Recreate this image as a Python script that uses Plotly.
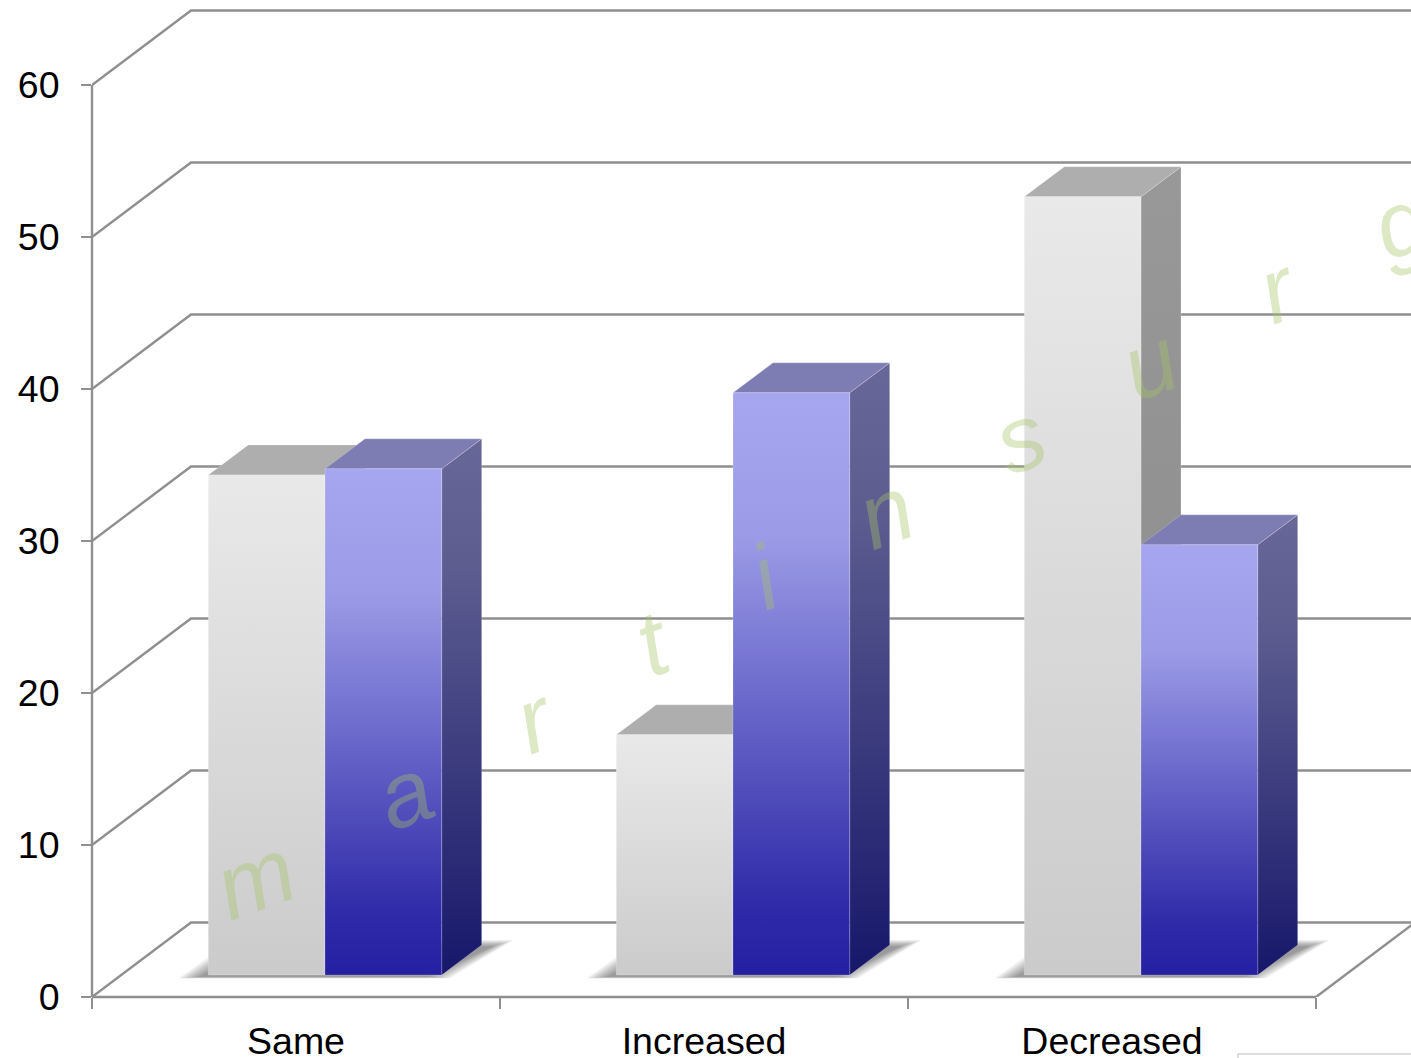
import plotly.graph_objects as go

# Chart data
categories = ["Same", "Increased", "Decreased"]
grey_values = [32.9, 15.8, 51.2]
blue_values = [33.3, 38.3, 28.3]
y_ticks = [0, 10, 20, 30, 40, 50, 60]
watermark_letters = ["m", "a", "r", "t", "i", "n", "s", "u", "r", "g"]
watermark_x = [0.40, 0.767, 1.086, 1.375, 1.65, 1.944, 2.275, 2.593, 2.907, 3.206]
watermark_y = [7.8, 13.4, 18.3, 23.3, 27.6, 31.9, 36.8, 41.7, 46.6, 50.9]

# Pixel scale of both axes, used to express the oblique projection in data units
PX_X = 408.0
PX_Y = 15.2
WIDTH, HEIGHT = 1411, 1058
LEFT, BOTTOM = 92, 61
X_MAX = (WIDTH - LEFT) / PX_X
Y_MAX = (HEIGHT - BOTTOM) / PX_Y


def dx(p):
    return p / PX_X


def dy(p):
    return p / PX_Y


WALL_DX, WALL_DY = dx(99), dy(74.5)    # depth of the chart box
SIDE_DX, SIDE_DY = dx(40), dy(30)      # depth of a bar
FRONT_DX, BASE_Y = dx(29), dy(22)      # where the bars stand on the floor
BAR_W = dx(116.7)
GRID = "#8f8f8f"
GRID_W = 2.4

fig = go.Figure()


def line(xs, ys):
    fig.add_trace(go.Scatter(x=xs, y=ys, mode="lines", hoverinfo="skip", showlegend=False,
                             line=dict(color=GRID, width=GRID_W)))


def face(xs, ys, colors=None, solid=None, edge="rgba(255,255,255,0.2)"):
    kw = dict(x=xs + xs[:1], y=ys + ys[:1], mode="lines", fill="toself", hoverinfo="skip",
              showlegend=False, line=dict(color=edge, width=1))
    if colors:
        kw["fillgradient"] = dict(type="vertical", colorscale=colors)
    else:
        kw["fillcolor"] = solid
    fig.add_trace(go.Scatter(**kw))


# Back wall grid lines running back from the value axis
for v in y_ticks:
    line([0, WALL_DX, X_MAX], [v, v + WALL_DY, v + WALL_DY])
# Right edge of the floor
line([3, 3 + WALL_DX], [0, WALL_DY])

GREY_FRONT = [[0, "#cbcbcb"], [1, "#e9e9e9"]]
GREY_SIDE = [[0, "#8a8a8a"], [1, "#989898"]]
BLUE_FRONT = [[0, "#2520a2"], [0.12, "#2f2aa8"], [0.75, "#9a9ae6"], [1, "#a6a6f0"]]
BLUE_SIDE = [[0, "#17176b"], [0.75, "#5c5c90"], [1, "#676798"]]

for i in range(len(categories)):
    centre = i + 0.5 + FRONT_DX
    x0, xm, x1 = centre - BAR_W, centre, centre + BAR_W

    # Soft contact shadow built from nested translucent layers
    for inset in range(0, 24, 2):
        a = dx(inset)
        low = BASE_Y - dy(3.5) + dy(inset * 0.08)
        high = BASE_Y + dy(35) - dy(inset * 0.3)
        sx = [x0 - dx(30) + a, x1 + dx(8) - a, x1 + dx(72) - a, x0 + dx(24) + a]
        sy = [low, low, high, high]
        face(sx, sy, solid="rgba(70,70,70,0.06)", edge="rgba(0,0,0,0)")

    for left, right, value, front, side, top in (
        (x0, xm, grey_values[i], GREY_FRONT, GREY_SIDE, "#aeaeae"),
        (xm, x1, blue_values[i], BLUE_FRONT, BLUE_SIDE, "#7d7db3"),
    ):
        y_top = BASE_Y + value
        face([right, right + SIDE_DX, right + SIDE_DX, right],
             [BASE_Y, BASE_Y + SIDE_DY, y_top + SIDE_DY, y_top], colors=side)
        face([left, right, right + SIDE_DX, left + SIDE_DX],
             [y_top, y_top, y_top + SIDE_DY, y_top + SIDE_DY], solid=top)
        face([left, right, right, left], [BASE_Y, BASE_Y, y_top, y_top], colors=front)

# Diagonal watermark, one letter at a time
annotations = [
    dict(x=x, y=y, text=ch, showarrow=False, textangle=-20, xanchor="center", yanchor="middle",
         font=dict(family="Liberation Sans", size=92, style="italic",
                   color="rgba(165,195,100,0.38)"))
    for ch, x, y in zip(watermark_letters, watermark_x, watermark_y)
]

axis_shape = dict(type="line", line=dict(color=GRID, width=GRID_W), layer="below")

fig.update_layout(
    width=WIDTH, height=HEIGHT,
    margin=dict(l=LEFT, r=0, t=0, b=BOTTOM, pad=0, autoexpand=False),
    paper_bgcolor="white", plot_bgcolor="white",
    showlegend=False,
    annotations=annotations,
    font=dict(family="Liberation Sans", size=37.5, color="black"),
    xaxis=dict(range=[0, X_MAX], showgrid=False, zeroline=False, showline=False, automargin=False,
               tickmode="array", tickvals=[0.5, 1.5, 2.5], ticktext=categories, ticks="",
               ticklabelstandoff=18,
               minor=dict(tickmode="array", tickvals=[0, 1, 2, 3], ticks="outside",
                          ticklen=11, tickwidth=GRID_W, tickcolor=GRID, showgrid=False)),
    yaxis=dict(range=[0, Y_MAX], showgrid=False, zeroline=False, showline=False, automargin=False,
               tickmode="array", tickvals=y_ticks, ticks="outside", ticklen=10,
               tickwidth=GRID_W, tickcolor=GRID, ticklabelstandoff=14),
    shapes=[
        # Axis lines, drawn so their full width shows at the plot edge
        dict(axis_shape, xref="paper", x0=0, x1=0, yref="y", y0=0, y1=60),
        dict(axis_shape, xref="x", x0=0, x1=3, yref="paper", y0=0, y1=0),
        # Top edge of the legend frame, which runs off the bottom of the page
        dict(type="rect", xref="paper", yref="paper", x0=(1238 - LEFT) / (WIDTH - LEFT), x1=1.01,
             y0=-0.12, y1=-57 / (HEIGHT - BOTTOM), line=dict(color="#d4d4d4", width=1.5),
             fillcolor="white", layer="above"),
    ],
)

fig.write_html("out.html")
